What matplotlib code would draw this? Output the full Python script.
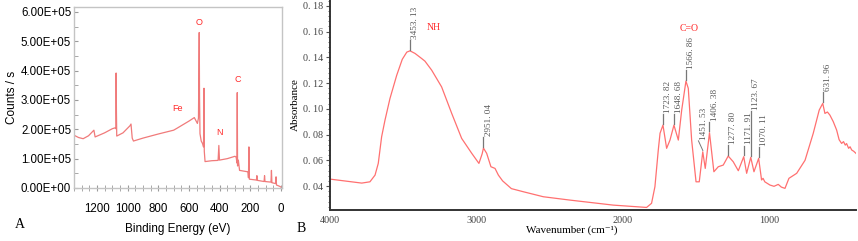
import numpy as np
import matplotlib.pyplot as plt
from matplotlib.ticker import MultipleLocator, FuncFormatter

# ---- XPS survey (panel A) ----
xps_energy = [1350, 1320, 1290, 1255, 1220, 1212, 1150, 1100, 1082, 1077, 1075, 1073, 1071,
              1030, 985, 978, 970, 962, 900, 800, 700, 680, 600, 565, 545, 538, 533, 531,
              528, 520, 510, 505, 502, 500, 495, 450, 410, 405, 401, 350, 300, 292, 287,
              285, 283, 278, 270, 215, 212, 209, 206, 160, 157, 154, 110, 107, 104, 65,
              62, 59, 35, 32, 29, 10, 0]
xps_counts = [1.80, 1.72, 1.68, 1.78, 1.97, 1.74, 1.88, 2.02, 2.05, 2.02, 3.92, 2.60, 1.77,
              1.88, 2.12, 2.18, 1.70, 1.60, 1.70, 1.84, 1.97, 2.03, 2.28, 2.40, 2.20, 2.38,
              5.30, 3.10, 1.85, 1.60, 1.50, 1.40, 3.40, 1.25, 0.90, 0.93, 0.94, 1.45, 0.95,
              1.00, 1.08, 1.05, 0.85, 3.25, 0.75, 0.95, 0.60, 0.55, 0.35, 1.40, 0.30, 0.27,
              0.42, 0.26, 0.22, 0.42, 0.22, 0.20, 0.60, 0.18, 0.15, 0.38, 0.10, 0.06, 0.03]
xps_counts = [c * 1e5 for c in xps_counts]
xps_labels = ["O", "C", "Fe", "N"]
xps_label_x = [532, 285, 672, 404]
xps_label_y = [5.5e5, 3.55e5, 2.57e5, 1.75e5]

# ---- FTIR (panel B) ----
ir_wn = [4000, 3783, 3727, 3692, 3670, 3647, 3624, 3590, 3544, 3506, 3475, 3453, 3419,
         3373, 3351, 3305, 3237, 3168, 3100, 3031, 2982, 2960, 2951, 2929, 2900, 2872,
         2849, 2820, 2760, 2679, 2542, 2360, 2064, 1836, 1802, 1779, 1756, 1744, 1724,
         1699, 1676, 1649, 1619, 1596, 1567, 1551, 1528, 1498, 1476, 1452, 1435, 1406,
         1376, 1346, 1312, 1278, 1244, 1209, 1172, 1152, 1124, 1102, 1070, 1050, 1040,
         1028, 993, 965, 936, 915, 890, 863, 810, 753, 697, 656, 632, 617, 600, 583, 560,
         537, 520, 503, 490, 478, 469, 455, 445, 434, 420, 405]
ir_abs = [0.0454, 0.0423, 0.0433, 0.0485, 0.0576, 0.0783, 0.0912, 0.108, 0.126, 0.1384,
          0.1440, 0.1450, 0.1430, 0.1390, 0.1370, 0.130, 0.117, 0.0964, 0.077, 0.0654,
          0.0576, 0.0650, 0.0695, 0.0654, 0.055, 0.0537, 0.0485, 0.0440, 0.0380, 0.0356,
          0.0317, 0.0291, 0.0252, 0.0234, 0.0266, 0.0395, 0.068, 0.081, 0.0873, 0.0693,
          0.0757, 0.0873, 0.0757, 0.099, 0.1215, 0.1159, 0.0757, 0.0433, 0.0433, 0.0666,
          0.0537, 0.0814, 0.0511, 0.055, 0.0563, 0.0633, 0.0589, 0.0519, 0.0628, 0.0499,
          0.0623, 0.0511, 0.0615, 0.0447, 0.0460, 0.0433, 0.0408, 0.0398, 0.0413, 0.0392,
          0.0382, 0.046, 0.0499, 0.060, 0.0809, 0.099, 0.1042, 0.0964, 0.0975, 0.0951,
          0.0900, 0.0835, 0.0760, 0.0731, 0.0745, 0.0718, 0.0730, 0.0693, 0.0705, 0.0680,
          0.0670, 0.0654]
ir_peaks = [3453.13, 2951.04, 1723.82, 1648.68, 1566.86, 1451.53, 1406.38, 1277.80,
            1171.91, 1123.67, 1070.11, 631.96]
ir_peak_abs = [0.1450, 0.0695, 0.0873, 0.0873, 0.1215, 0.0666, 0.0814, 0.0633,
               0.0628, 0.0623, 0.0615, 0.1042]
ir_stick = [0.0085, 0.0085, 0.0085, 0.0085, 0.0085, 0.0085, 0.0085, 0.0085,
            0.0085, 0.0360, 0.0085, 0.0085]

fig = plt.figure(figsize=(8.58, 2.41), dpi=100)
red = "#ff2a2a"

# ---------------- panel A ----------------
axA = fig.add_axes([0.0862, 0.22, 0.2425, 0.751])
axA.plot(xps_energy, xps_counts, color="#f07a7a", lw=0.9)
axA.set_xlim(1350, -7)
axA.set_ylim(0, 6.17e5)
axA.xaxis.set_major_locator(MultipleLocator(200))
axA.xaxis.set_minor_locator(MultipleLocator(50))
axA.yaxis.set_major_locator(MultipleLocator(1e5))
axA.yaxis.set_minor_locator(MultipleLocator(0.5e5))
axA.yaxis.set_major_formatter(FuncFormatter(lambda v, p: f"{v:.2E}"))
for s in axA.spines.values():
    s.set_color("#c4c4c4")
    s.set_linewidth(1.0)
axA.tick_params(axis="both", which="both", color="#9a9a9a", labelsize=8.3,
                labelfontfamily="Liberation Sans")
axA.tick_params(axis="x", which="both", direction="inout", length=5, pad=8)
axA.tick_params(axis="y", which="both", direction="in", length=3, pad=2)
axA.set_ylabel("Counts / s", family="Liberation Sans", fontsize=8.5, labelpad=2)
axA.set_xlabel("Binding Energy (eV)", family="Liberation Sans", fontsize=8.5, labelpad=6)
for lab, lx, ly in zip(xps_labels, xps_label_x, xps_label_y):
    axA.text(lx, ly, lab, color=red, fontsize=6.5, family="Liberation Sans",
             ha="center", va="bottom")

# ---------------- panel B ----------------
serif = ["Liberation Serif", "DejaVu Serif"]
axB = fig.add_axes([0.3846, 0.1286, 0.613, 0.871])
axB.plot(ir_wn, ir_abs, color="#ff7070", lw=0.9)
axB.set_xlim(4000, 405)
axB.set_ylim(0.0214, 0.1844)
axB.xaxis.set_major_locator(MultipleLocator(1000))
axB.yaxis.set_major_locator(MultipleLocator(0.02))
axB.yaxis.set_minor_locator(MultipleLocator(0.004))
axB.yaxis.set_major_formatter(FuncFormatter(lambda v, p: f"{v:.2f}".replace(".", ". ")))
axB.spines["top"].set_visible(False)
axB.spines["right"].set_visible(False)
axB.spines["left"].set_linewidth(1.4)
axB.spines["bottom"].set_linewidth(1.4)
axB.spines["left"].set_color("#333333")
axB.spines["bottom"].set_color("#333333")
axB.tick_params(axis="both", which="both", color="#555555", labelcolor="#444444",
                labelsize=7.3, labelfontfamily="Liberation Serif")
axB.tick_params(axis="y", which="major", length=3, pad=2)
axB.tick_params(axis="y", which="minor", length=1.5)
axB.tick_params(axis="x", which="major", length=0, pad=4)
axB.set_ylabel("Absorbance", family=serif, fontsize=8, labelpad=2)
axB.set_xlabel("Wavenumber (cm\u207b\u00b9)", family=serif, fontsize=8)
axB.xaxis.set_label_coords(0.46, -0.075)

for wn, ab, st in zip(ir_peaks, ir_peak_abs, ir_stick):
    if wn == 1451.53:
        axB.plot([wn, wn + 30], [ab + 0.001, ab + st], color="#777777", lw=0.7)
        tx = wn + 30
    else:
        axB.plot([wn, wn], [ab + 0.001, ab + st], color="#777777", lw=0.9)
        tx = wn
    axB.text(tx - 8, ab + st + 0.001, f"{wn:.2f}".replace(".", ". "), rotation=90,
             ha="left", va="bottom", fontsize=6.6, color="#555555", family=serif)

axB.text(3290, 0.163, "NH", color=red, fontsize=7, family=serif, ha="center", va="center")
axB.text(1546, 0.1625, "C=O", color=red, fontsize=7, family=serif, ha="center", va="center")

fig.text(15 / 858, 1 - 225 / 241, "A", family=serif, fontsize=10, ha="left", va="center")
fig.text(297 / 858, 1 - 228 / 241, "B", family=serif, fontsize=10, ha="left", va="center")

fig.savefig("out.png", dpi=100)
